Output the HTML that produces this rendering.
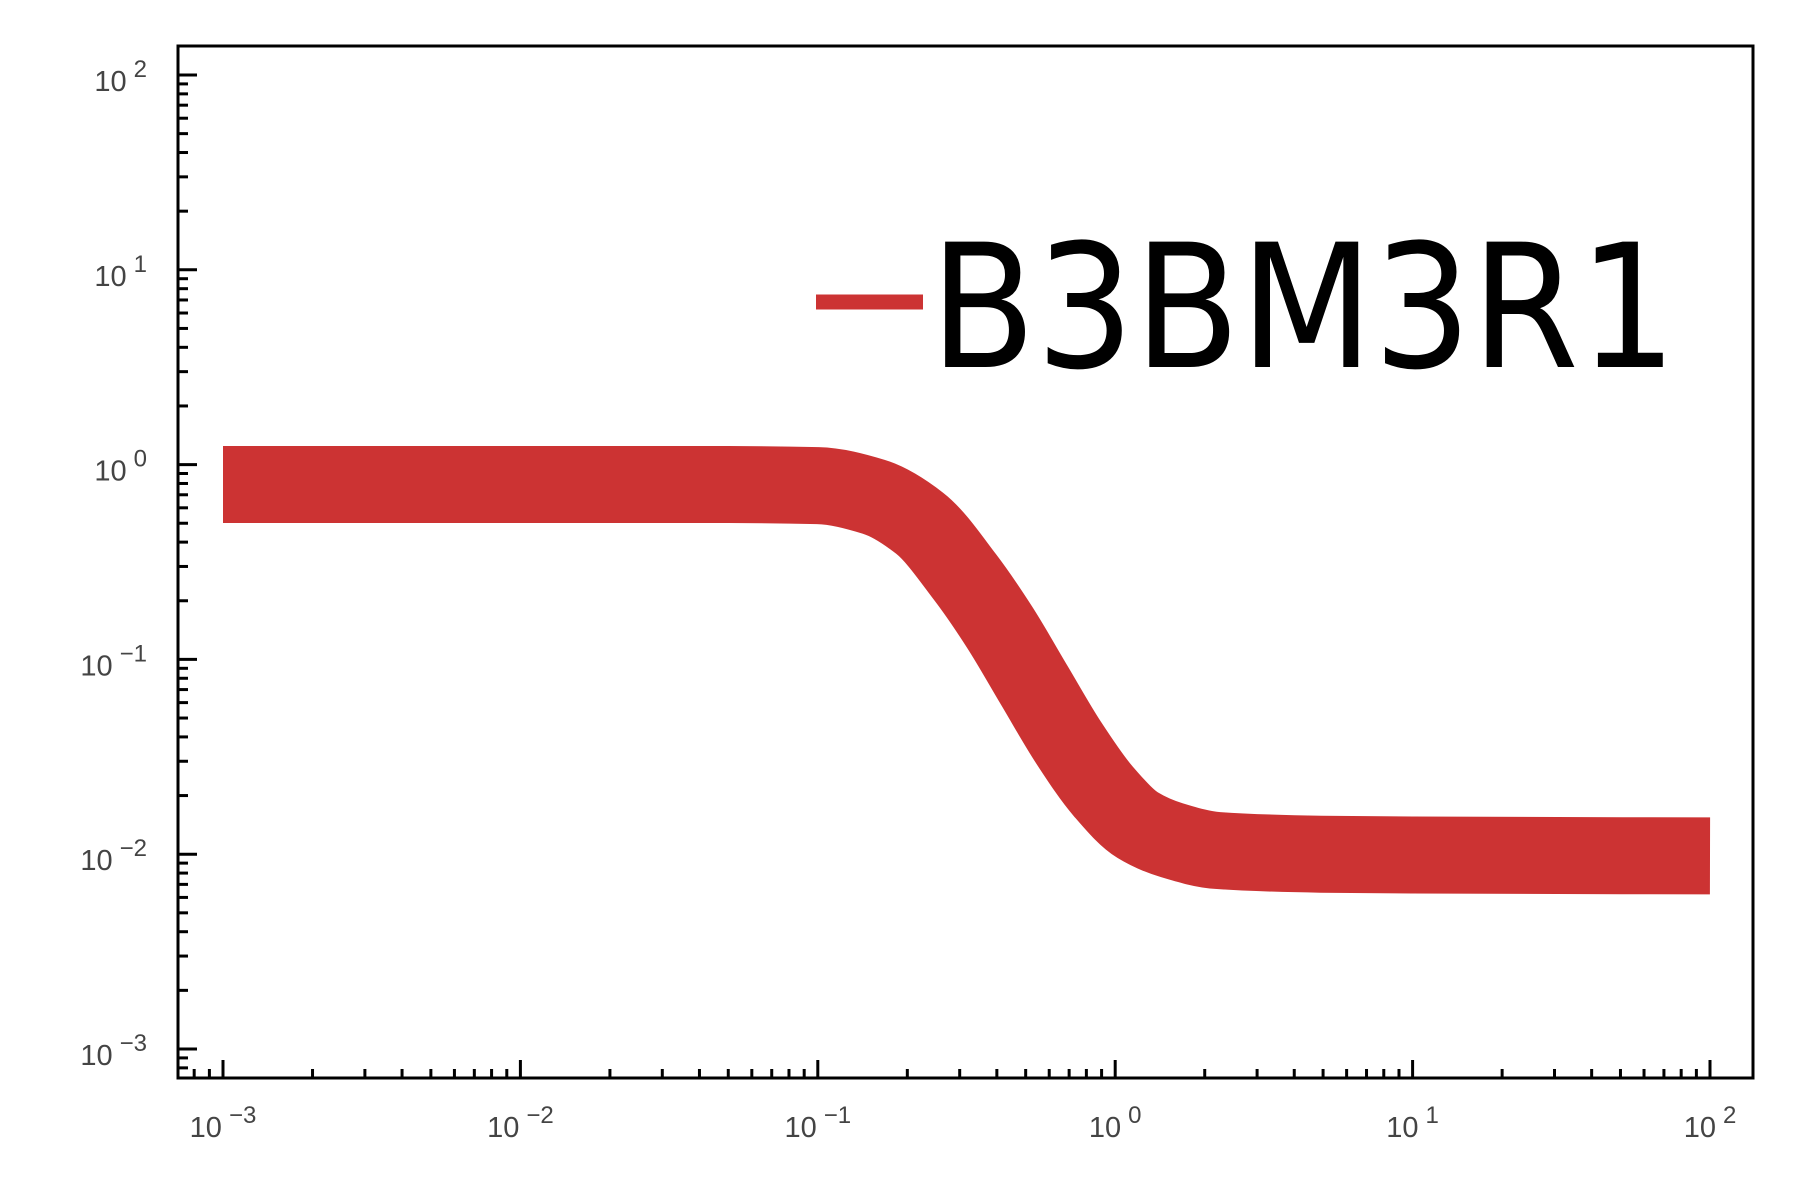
<!DOCTYPE html>
<html><head><meta charset="utf-8"><style>
html,body{margin:0;padding:0;background:#fff}
svg{display:block}
</style></head><body>
<svg id="chart" width="1800" height="1200" viewBox="0 0 1800 1200">
<rect x="0" y="0" width="1800" height="1200" fill="#fff"/>
<g id="ticks"></g>
<path id="curve" fill="none" stroke="#cc3333" stroke-width="77" stroke-linecap="butt" stroke-linejoin="round"/>
<rect x="178" y="46" width="1575" height="1032" fill="none" stroke="#000" stroke-width="3"/>
<g>
<line x1="816" y1="302" x2="923" y2="302" stroke="#cc3333" stroke-width="15"/>
<text x="930" y="367" font-family="DejaVu Sans, sans-serif" font-size="172" textLength="747" lengthAdjust="spacingAndGlyphs" fill="#000">B3BM3R1</text>
</g>
</svg>
<script>
const xValues = [0.001, 0.01, 0.05, 0.1, 0.154, 0.22, 0.313, 0.409, 0.534, 0.697, 0.91, 1.19, 1.55, 2.21, 4.92, 10, 100];
const yValues = [0.79, 0.79, 0.79, 0.78, 0.684, 0.50, 0.264, 0.146, 0.0738, 0.0374, 0.0211, 0.0141, 0.0118, 0.01045, 0.0100, 0.0099, 0.0098];
const xTickExps = [-3, -2, -1, 0, 1, 2];
const yTickExps = [-3, -2, -1, 0, 1, 2];

const L=178, R=1753, T=46, B=1078;
const X0=223, XD=297.4;
const Y0=1049, YD=194.8;
function xs(v){return X0+(Math.log10(v)+3)*XD;}
function ys(v){return Y0-(Math.log10(v)+3)*YD;}
const NS="http://www.w3.org/2000/svg";

// monotone cubic (Fritsch-Carlson) in pixel space
const px=xValues.map(xs), py=yValues.map(ys);
const n=px.length, dk=[], m=[];
for(let i=0;i<n-1;i++)dk.push((py[i+1]-py[i])/(px[i+1]-px[i]));
m[0]=dk[0];m[n-1]=dk[n-2];
for(let i=1;i<n-1;i++){
  if(dk[i-1]*dk[i]<=0)m[i]=0;
  else{const w1=2*(px[i+1]-px[i])+(px[i]-px[i-1]),w2=(px[i+1]-px[i])+2*(px[i]-px[i-1]);
    m[i]=(w1+w2)/(w1/dk[i-1]+w2/dk[i]);}
}
let d="M"+px[0]+","+py[0];
for(let i=0;i<n-1;i++){
  const h=px[i+1]-px[i];
  d+=" C"+(px[i]+h/3)+","+(py[i]+m[i]*h/3)+" "+(px[i+1]-h/3)+","+(py[i+1]-m[i+1]*h/3)+" "+px[i+1]+","+py[i+1];
}
document.getElementById('curve').setAttribute('d',d);

const g=document.getElementById('ticks');
function line(x1,y1,x2,y2,w,name){
  const l=document.createElementNS(NS,'line');
  l.setAttribute('x1',x1);l.setAttribute('y1',y1);l.setAttribute('x2',x2);l.setAttribute('y2',y2);
  l.setAttribute('stroke','#000');l.setAttribute('stroke-width',w);
  
  
  g.appendChild(l);
}
function label(x,y,exp,anchor,name){
  const t=document.createElementNS(NS,'text');
  t.setAttribute('x',x);t.setAttribute('y',y);t.setAttribute('text-anchor',anchor);
  t.setAttribute('font-family','Liberation Sans, sans-serif');t.setAttribute('font-size','29');t.setAttribute('fill','#444');
  
  
  const s=exp<0?"\u2212"+(-exp):String(exp);
  t.innerHTML='10<tspan font-size="24" dy="-14" dx="7">'+s+'</tspan>';
  g.appendChild(t);
}
for(let e=-4;e<=2;e++){
  for(let k=1;k<10;k++){
    const v=k*Math.pow(10,e);const X=xs(v);
    if(X<L||X>R)continue;
    if(k===1)line(X,B,X,B-18,3,'x-major-tick');
    else line(X,B,X,B-9,3,'x-minor-tick');
  }
}
xTickExps.forEach(e=>label(xs(Math.pow(10,e)),1137,e,'middle','x-tick-label'));
for(let e=-4;e<=2;e++){
  for(let k=1;k<10;k++){
    const v=k*Math.pow(10,e);const Y=ys(v);
    if(Y<T||Y>B)continue;
    if(k===1)line(L,Y,L+19,Y,3,'y-major-tick');
    else line(L,Y,L+10,Y,3,'y-minor-tick');
  }
}
yTickExps.forEach(e=>label(147,ys(Math.pow(10,e))+16,e,'end','y-tick-label'));
</script>
</body></html>
